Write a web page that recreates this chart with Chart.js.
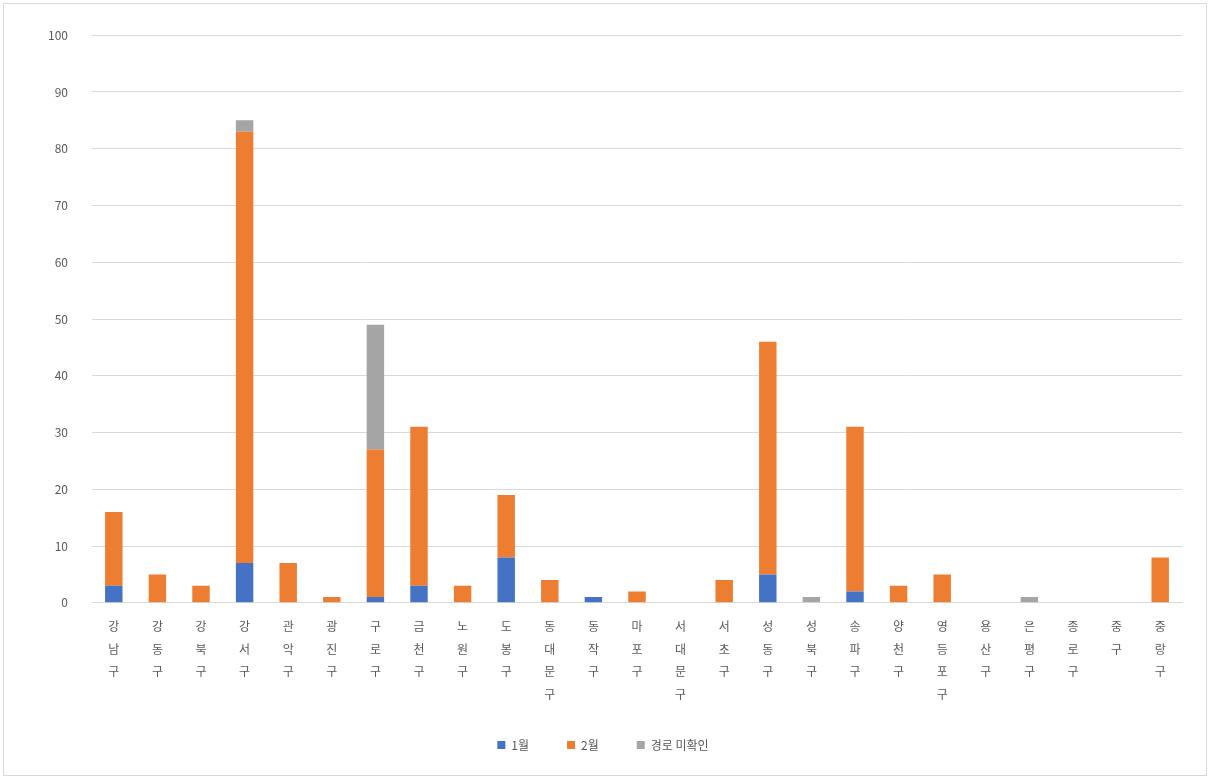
<!DOCTYPE html>
<html lang="ko">
<head>
<meta charset="utf-8">
<title>자치구별 현황</title>
<script src="https://cdn.jsdelivr.net/npm/chart.js@4.4.1/dist/chart.umd.min.js"></script>
<style>
  html, body { margin: 0; padding: 0; background: #fff; }
  #wrap {
    position: absolute; left: 3px; top: 3px; width: 1204px; height: 773px;
    border: 1px solid #d9d9d9; box-sizing: border-box;
  }
  canvas { display: block; }
</style>
</head>
<body>
<div id="wrap"><canvas id="guChart"></canvas></div>
<script>
// 서울 25개 자치구
var districts = [
  "강남구", "강동구", "강북구", "강서구", "관악구", "광진구", "구로구",
  "금천구", "노원구", "도봉구", "동대문구", "동작구", "마포구", "서대문구",
  "서초구", "성동구", "성북구", "송파구", "양천구", "영등포구", "용산구",
  "은평구", "종로구", "중구", "중랑구"
];

var seriesNames = ["1월", "2월", "경로 미확인"];

var valuesFirst  = [3, 0, 0, 7, 0, 0, 1, 3, 0, 8, 0, 1, 0, 0, 0, 5, 0, 2, 0, 0, 0, 0, 0, 0, 0];
var valuesSecond = [13, 5, 3, 76, 7, 1, 26, 28, 3, 11, 4, 0, 2, 0, 4, 41, 0, 29, 3, 5, 0, 0, 0, 0, 8];
var valuesThird  = [0, 0, 0, 2, 0, 0, 22, 0, 0, 0, 0, 0, 0, 0, 0, 0, 1, 0, 0, 0, 0, 1, 0, 0, 0];

var yTicks = [0, 10, 20, 30, 40, 50, 60, 70, 80, 90, 100];

var seriesColors = ["#4472C4", "#ED7D31", "#A5A5A5"];

// 좁은 칸에 맞게 구 이름을 한 글자씩 세로로 쌓는다
var stackedLabels = districts.map(function (name) {
  return name.split("");
});

var fontFamily = "'Noto Sans CJK KR', 'Noto Sans', sans-serif";

var ctx = document.getElementById("guChart").getContext("2d");
new Chart(ctx, {
  type: "bar",
  data: {
    labels: stackedLabels,
    datasets: [
      { label: seriesNames[0], data: valuesFirst, backgroundColor: seriesColors[0] },
      { label: seriesNames[1], data: valuesSecond, backgroundColor: seriesColors[1] },
      { label: seriesNames[2], data: valuesThird, backgroundColor: seriesColors[2] }
    ]
  },
  options: {
    responsive: true,
    maintainAspectRatio: false,
    animation: false,
    datasets: {
      bar: { categoryPercentage: 0.4, barPercentage: 1.0 }
    },
    layout: { padding: { top: 18, right: 24, left: 20, bottom: 14 } },
    scales: {
      x: {
        stacked: true,
        // 세로 글자 아래 여백을 줄여 범례와의 간격을 맞춘다
        afterFit: function (scale) { scale.height = scale.height - 17; },
        grid: { display: false, drawTicks: false },
        border: { color: "#d9d9d9" },
        ticks: {
          color: "#595959",
          padding: 12,
          maxRotation: 0,
          autoSkip: false,
          font: { family: fontFamily, size: 12, lineHeight: 1.9 }
        }
      },
      y: {
        stacked: true,
        min: yTicks[0],
        max: yTicks[yTicks.length - 1],
        afterBuildTicks: function (scale) {
          scale.ticks = yTicks.map(function (v) { return { value: v }; });
        },
        afterFit: function (scale) { scale.width = 68; },
        grid: { color: "#d9d9d9", drawTicks: false },
        border: { display: false },
        ticks: {
          color: "#595959",
          padding: 24,
          font: { family: fontFamily, size: 12 }
        }
      }
    },
    plugins: {
      legend: {
        position: "bottom",
        labels: {
          color: "#595959",
          boxWidth: 8,
          boxHeight: 8,
          padding: 38,
          font: { family: fontFamily, size: 12 }
        }
      },
      tooltip: { enabled: false }
    }
  }
});
</script>
</body>
</html>
